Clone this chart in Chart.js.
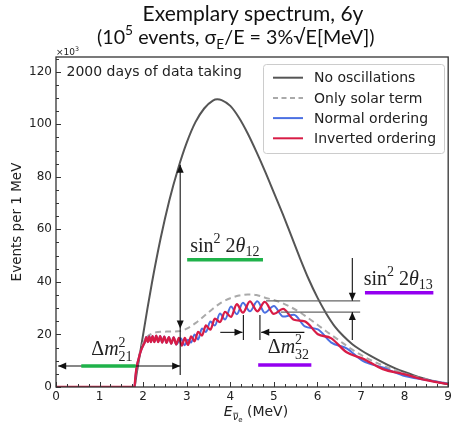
<!DOCTYPE html>
<html><head><meta charset="utf-8">
<script src="https://cdn.jsdelivr.net/npm/chart.js@4.4.1/dist/chart.umd.min.js"></script>
<style>html,body{margin:0;padding:0;background:#fff;}canvas{display:block;}</style>
</head><body>
<canvas id="c" width="455" height="423"></canvas>
<script>
// ---------- data ----------
const xTicks = [0,1,2,3,4,5,6,7,8,9];
const yTicks = [0,20,40,60,80,100,120];

const noOscE = [0,1.8,1.85,1.9,2.0,2.1,2.2,2.4,2.6,2.8,3.0,3.2,3.4,3.6,3.7,3.8,4.0,4.2,4.4,4.6,4.8,5.0,5.2,5.4,5.6,5.8,6.0,6.2,6.4,6.6,6.8,7.0,7.2,7.4,7.6,7.8,8.0,8.2,8.4,8.6,8.8,9.0];
const noOscN = [0,0,5,10,20,30,39.5,56.5,71,83,93,100.8,106,109,109.5,109.2,107,102.5,96.5,89.5,82,74,66,57.5,49,41,34,28,23,19.3,16.3,14,12,10.2,8.5,7,5.7,4.5,3.4,2.5,1.7,1.0];

const solarE = [0,1.8,1.85,1.9,1.95,2.0,2.1,2.2,2.3,2.4,2.6,2.8,2.9,3.0,3.2,3.4,3.6,3.8,4.0,4.2,4.4,4.5,4.6,4.8,5.0,5.2,5.4,5.6,5.8,6.0,6.2,6.4,6.6,6.8,7.0,7.2,7.4,7.6,7.8,8.0,8.5,9.0];
const solarN = [0,0,7,11.5,14.5,16.8,19.2,20.3,20.8,21.0,21.1,21.2,21.5,22.2,24.3,27,29.8,32.2,33.8,34.8,35.2,35.2,35,34,33.1,31.9,30.3,28.4,26.1,23.7,21.2,18.9,16.5,14.2,12.2,10.4,8.9,7.5,6.3,5.1,2.9,1.3];

const normE = [0,1.8,1.82,1.85,1.9,1.95,2.0,2.04,2.07,2.105,2.14,2.178,2.215,2.257,2.30,2.345,2.39,2.437,2.485,2.537,2.59,2.645,2.70,2.76,2.86,2.955,3.028,3.10,3.18,3.26,3.35,3.44,3.543,3.645,3.763,3.88,4.015,4.15,4.29,4.45,4.62,4.79,5.00,5.21,5.46,5.71,6.01,6.31,6.67,7.04,7.5,7.96,8.5,9.0];
const normN = [0,0,3.5,7.5,11,13.8,15.8,17.2,19.0,17.1,19.3,17.1,19.4,17.1,19.5,17.1,19.4,16.9,19.2,16.8,19.0,16.5,18.9,16.2,18.6,15.9,18.0,16.9,20.0,18.1,22.3,20.9,24.9,23.4,28.0,25.7,30.6,27.7,32.1,28.8,32.6,28.3,30.8,26.8,27.5,23.1,21.9,17.0,14.7,9.9,7.4,4.4,2.7,1.2];

const invE = [0,1.8,1.82,1.85,1.9,1.95,2.0,2.04,2.07,2.105,2.14,2.178,2.215,2.257,2.30,2.345,2.39,2.437,2.485,2.537,2.59,2.645,2.70,2.76,2.82,2.888,2.955,3.028,3.10,3.18,3.26,3.35,3.44,3.543,3.645,3.763,3.88,4.015,4.15,4.29,4.45,4.62,4.79,5.00,5.21,5.46,5.71,6.01,6.31,6.67,7.04,7.5,7.96,8.5,9.0];
const invN = [0,0,3.5,7.5,11,13.8,15.8,17.2,19.0,17.1,19.3,17.1,19.4,17.1,19.5,17.1,19.4,16.9,19.2,16.8,19.0,16.5,18.9,16.2,18.7,15.8,18.7,16.0,19.3,17.4,21.0,19.6,23.4,21.8,26.0,24.7,28.6,26.7,31.5,28.3,32.6,28.8,32.4,27.8,29.7,25.6,25.0,20.1,18.6,13.2,10.8,6.8,5.0,2.6,1.1];

const seriesLabels = ['No oscillations','Only solar term','Normal ordering','Inverted ordering'];
const seriesColors = ['#555555','#aaaaaa','#4b70e2','#d81c46'];

// ---------- helpers ----------
const zip = (a,b)=>a.map((v,i)=>({x:v,y:b[i]}));
const SERIF = '"Liberation Serif", "DejaVu Serif", serif';
const SANS = '"DejaVu Sans", sans-serif';

function rich(ctx, parts, x, y, size, family, align){
  const items=[]; let pending=0;
  for(const p of parts){
    const o=p[1]||{};
    const s = o.sup||o.sub ? size*0.7 : (o.subsub ? size*0.5 : size);
    const font=(o.i?'italic ':'')+s+'px '+family;
    ctx.font=font;
    const w=ctx.measureText(p[0]).width;
    const dy = o.sup ? -size*0.42 : o.sub ? size*(o.lo||0.22) : o.subsub ? size*0.42 : 0;
    let adv=w;
    if(o.keep){ pending=w; adv=0; } else if(pending){ adv=Math.max(w,pending); pending=0; }
    items.push({t:p[0],font,w,adv,dy,dx:o.dx||0});
  }
  const W=items.reduce((a,b)=>a+b.adv,0);
  let cx = align==='center' ? x-W/2 : x;
  ctx.textAlign='left'; ctx.textBaseline='alphabetic';
  const pos=[];
  for(const it of items){
    ctx.font=it.font; ctx.fillText(it.t,cx+it.dx,y+it.dy);
    pos.push({x:cx+it.dx,w:it.w,y:y+it.dy});
    cx+=it.adv;
  }
  return pos;
}

function head(ctx,x,y,dir,L=8,H=3.5){
  ctx.save(); ctx.translate(x,y);
  const ang={right:0,left:Math.PI,down:Math.PI/2,up:-Math.PI/2}[dir];
  ctx.rotate(ang);
  ctx.beginPath(); ctx.moveTo(0,0); ctx.lineTo(-L,-H); ctx.lineTo(-L,H); ctx.closePath(); ctx.fill();
  ctx.restore();
}
function seg(ctx,x1,y1,x2,y2){ctx.beginPath();ctx.moveTo(x1,y1);ctx.lineTo(x2,y2);ctx.stroke();}

const deco = {
  id:'deco',
  afterDatasetsDraw(chart){
    const ctx=chart.ctx, xs=chart.scales.x, ys=chart.scales.y;
    const X=v=>xs.getPixelForValue(v), Y=v=>ys.getPixelForValue(v);
    ctx.save();
    ctx.strokeStyle='#111'; ctx.fillStyle='#111'; ctx.lineWidth=1.1;
    seg(ctx,X(0.05),Y(8),X(2.85),Y(8)); head(ctx,X(0.05),Y(8),'left'); head(ctx,X(2.85),Y(8),'right');
    seg(ctx,X(2.85),Y(84.6),X(2.85),Y(4.6)); head(ctx,X(2.85),Y(84.6),'up'); head(ctx,X(2.85),Y(22.3),'down');
    seg(ctx,X(4.3),Y(27.4),X(4.3),Y(17.9)); seg(ctx,X(4.68),Y(27.4),X(4.68),Y(17.9));
    seg(ctx,X(3.77),Y(20.8),X(4.28),Y(20.8)); head(ctx,X(4.28),Y(20.8),'right');
    seg(ctx,X(5.70),Y(20.8),X(4.71),Y(20.8)); head(ctx,X(4.71),Y(20.8),'left');
    ctx.strokeStyle='#666'; ctx.lineWidth=1.3;
    seg(ctx,X(4.82),Y(32.8),X(6.98),Y(32.8));
    seg(ctx,X(5.16),Y(28.5),X(6.98),Y(28.5));
    ctx.strokeStyle='#111'; ctx.lineWidth=1.1;
    seg(ctx,X(6.8),Y(49.1),X(6.8),Y(32.8)); head(ctx,X(6.8),Y(32.8),'down');
    seg(ctx,X(6.8),Y(17.9),X(6.8),Y(28.5)); head(ctx,X(6.8),Y(28.5),'up');
    ctx.lineWidth=3.5; ctx.lineCap='butt';
    ctx.strokeStyle='#1fb24a';
    seg(ctx,X(0.58),Y(8),X(1.83),Y(8));
    seg(ctx,X(3.01),Y(48.4),X(4.75),Y(48.4));
    ctx.strokeStyle='#9400f0';
    seg(ctx,X(4.64),Y(8.4),X(5.86),Y(8.4));
    seg(ctx,X(7.09),Y(35.9),X(8.66),Y(35.9));
    ctx.fillStyle='#222';
    rich(ctx,[['\u0394'],['m',{i:1}],['2',{sup:1,keep:1}],['21',{sub:1,lo:0.3}]],X(0.81),Y(12.2),20,SERIF);
    rich(ctx,[['\u0394'],['m',{i:1}],['2',{sup:1,keep:1}],['32',{sub:1,lo:0.3}]],X(4.86),Y(13.0),20,SERIF);
    rich(ctx,[['sin'],['2',{sup:1}],[' 2'],['\u03b8',{i:1}],['12',{sub:1}]],X(3.08),Y(51.5),20,SERIF);
    rich(ctx,[['sin'],['2',{sup:1}],[' 2'],['\u03b8',{i:1}],['13',{sub:1}]],X(7.06),Y(38.9),20,SERIF);
    ctx.restore();
  },
  afterDraw(chart){
    const ctx=chart.ctx, xs=chart.scales.x, ys=chart.scales.y, a=chart.chartArea;
    const X=v=>xs.getPixelForValue(v), Y=v=>ys.getPixelForValue(v);
    ctx.save();
    ctx.strokeStyle='#333'; ctx.lineWidth=1.3;
    ctx.strokeRect(a.left,a.top,a.right-a.left,a.bottom-a.top);
    ctx.lineWidth=1;
    for(let v=0; v<=9.001; v+=0.25){
      const major=Math.abs(v-Math.round(v))<1e-6, L=major?5:3, px=Math.round(X(v))+0.5;
      seg(ctx,px,a.bottom,px,a.bottom-L);
    }
    for(let v=0; v<=125; v+=5){
      const major=v%20===0, L=major?5:3, py=Math.round(Y(v))+0.5;
      seg(ctx,a.left,py,a.left+L,py);
    }
    // legend
    const lx=263.5, ly=64.5, lw=181, lh=89;
    ctx.fillStyle='rgba(255,255,255,0.85)'; ctx.strokeStyle='#cccccc'; ctx.lineWidth=1;
    ctx.beginPath(); ctx.roundRect(lx,ly,lw,lh,3); ctx.fill(); ctx.stroke();
    ctx.font='14px '+SANS; ctx.textBaseline='middle'; ctx.textAlign='left';
    for(let i=0;i<4;i++){
      const yy=77.7+20.2*i;
      ctx.strokeStyle=seriesColors[i]; ctx.lineWidth=2;
      ctx.setLineDash(i===1?[5,3.5]:[]);
      seg(ctx,273,yy,303,yy);
      ctx.setLineDash([]);
      ctx.fillStyle='#222'; ctx.fillText(seriesLabels[i],314,yy+1);
    }
    ctx.fillStyle='#222'; ctx.font='14px '+SANS; ctx.textBaseline='middle';
    ctx.fillText('2000 days of data taking',66.5,72.5);
    ctx.font='9px '+SANS; ctx.textBaseline='alphabetic';
    rich(ctx,[['\u00d710'],['3',{sup:1}]],56,54.5,9,SANS);
    // title
    ctx.fillStyle='#111';
    ctx.font='21px Lato'; ctx.textAlign='center'; ctx.textBaseline='alphabetic';
    ctx.fillText('Exemplary spectrum, 6y',253,20.5);
    rich(ctx,[['(10'],['5',{sup:1}],[' events, \u03c3'],['E',{sub:1,lo:0.3}],['/E = 3%\u221aE[MeV])']],97,43.5,19.7,'Lato','left');
    // axis labels
    ctx.fillStyle='#222';
    const p=rich(ctx,[['E',{i:1}],['\u03bd',{sub:1,i:1,lo:0.3}],['e',{subsub:1}],[' (MeV)']],256,416,14,SANS,'center');
    ctx.strokeStyle='#222'; ctx.lineWidth=0.8;
    seg(ctx,p[1].x+0.5,p[1].y-7,p[1].x+p[1].w,p[1].y-7);
    ctx.save(); ctx.translate(17,222); ctx.rotate(-Math.PI/2);
    ctx.font='13.5px '+SANS; ctx.textAlign='center'; ctx.textBaseline='middle';
    ctx.fillText('Events per 1 MeV',0,0);
    ctx.restore();
    ctx.restore();
  }
};

new Chart(document.getElementById('c'),{
  type:'line',
  data:{datasets:[
    {label:seriesLabels[3],data:zip(invE,invN),borderColor:seriesColors[3],borderWidth:2.3,order:0},
    {label:seriesLabels[2],data:zip(normE,normN),borderColor:seriesColors[2],borderWidth:2,order:1},
    {label:seriesLabels[1],data:zip(solarE,solarN),borderColor:seriesColors[1],borderWidth:2,borderDash:[6,4],order:2},
    {label:seriesLabels[0],data:zip(noOscE,noOscN),borderColor:seriesColors[0],borderWidth:2,order:3}
  ]},
  options:{
    responsive:false, animation:false, devicePixelRatio:1,
    layout:{padding:{top:57,right:3,left:0,bottom:0}},
    elements:{point:{radius:0},line:{cubicInterpolationMode:'monotone',fill:false}},
    plugins:{legend:{display:false},title:{display:false},tooltip:{enabled:false}},
    scales:{
      x:{type:'linear',min:0,max:9,
        ticks:{stepSize:1,includeBounds:false,color:'#222',font:{family:'DejaVu Sans',size:12},padding:3,maxRotation:0,
               callback:v=>xTicks.includes(v)?String(v):''},
        grid:{display:false,drawTicks:false},border:{display:false},
        afterFit(s){s.height=36;}},
      y:{type:'linear',min:0,max:125.6,
        ticks:{stepSize:20,includeBounds:false,color:'#222',font:{family:'DejaVu Sans',size:12},padding:4,
               callback:v=>yTicks.includes(v)?String(v):''},
        grid:{display:false,drawTicks:false},border:{display:false},
        afterFit(s){s.width=56;}}
    }
  },
  plugins:[deco]
});
</script>
</body></html>
